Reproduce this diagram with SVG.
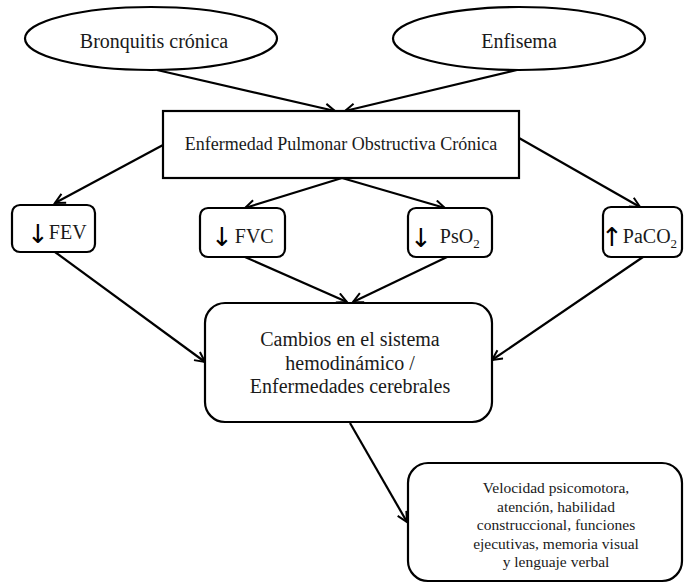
<svg xmlns="http://www.w3.org/2000/svg" width="684" height="583" viewBox="0 0 684 583">
  <defs>
    <marker id="arr" markerUnits="userSpaceOnUse" markerWidth="14" markerHeight="14" refX="11" refY="6" orient="auto">
      <path d="M1,1 L11,6 L1,11" fill="none" stroke="#000" stroke-width="2"/>
    </marker>
    <style>
      .shape { fill: #fff; stroke: #000; stroke-width: 2.2; }
      .t { font-family: "Liberation Serif", "Times New Roman", serif; fill: #1a1a1a; text-anchor: middle; }
      .s { text-anchor: start; }
      .big { font-size: 20px; }
      .mid { font-size: 18px; }
      .small { font-size: 15.5px; }
      .sym { font-family: "DejaVu Sans", sans-serif; font-size: 26px; fill: #000; }
      .sub { font-size: 13px; }
      .conn line { stroke: #000; stroke-width: 2.2; marker-end: url(#arr); }
    </style>
  </defs>
  <rect width="684" height="583" fill="#fff"/>

  <g id="connectors" class="conn">
    <line x1="157" y1="70" x2="335" y2="111"/>
    <line x1="517" y1="70" x2="345" y2="111"/>
    <line x1="163" y1="145" x2="55" y2="203"/>
    <line x1="342" y1="178" x2="245" y2="208"/>
    <line x1="342" y1="178" x2="445" y2="208"/>
    <line x1="519" y1="138" x2="640" y2="207"/>
    <line x1="55" y1="252" x2="205" y2="362"/>
    <line x1="245" y1="257" x2="347" y2="302"/>
    <line x1="447" y1="257" x2="353" y2="302"/>
    <line x1="643" y1="257" x2="492" y2="360"/>
    <line x1="350" y1="423" x2="407" y2="522"/>
  </g>

  <g id="bronquitis">
    <ellipse class="shape" cx="151" cy="38.5" rx="126" ry="31.5"/>
    <text class="t big" x="154" y="48">Bronquitis crónica</text>
  </g>
  <g id="enfisema">
    <ellipse class="shape" cx="519" cy="38.5" rx="126" ry="31.5"/>
    <text class="t big" x="519" y="48">Enfisema</text>
  </g>
  <g id="epoc">
    <rect class="shape" x="163" y="111" width="356" height="67"/>
    <text class="t mid" x="341" y="150">Enfermedad Pulmonar Obstructiva Crónica</text>
  </g>
  <g id="fev">
    <rect class="shape" x="12" y="205" width="83" height="47" rx="8"/>
    <text class="t big s" x="27" y="239"><tspan class="sym" dy="4">↓</tspan><tspan dy="-4">FEV</tspan></text>
  </g>
  <g id="fvc">
    <rect class="shape" x="200" y="208" width="85" height="49" rx="8"/>
    <text class="t big s" x="211" y="243"><tspan class="sym" dy="3">↓</tspan><tspan dx="2" dy="-3">FVC</tspan></text>
  </g>
  <g id="pso2">
    <rect class="shape" x="408" y="208" width="84" height="49" rx="8"/>
    <text class="t big s" x="410" y="243"><tspan class="sym" dy="4">↓</tspan><tspan dx="8" dy="-4">PsO</tspan><tspan class="sub" dy="5">2</tspan></text>
  </g>
  <g id="paco2">
    <rect class="shape" x="603" y="207" width="79" height="50" rx="8"/>
    <text class="t big s" x="601" y="243"><tspan class="sym" dy="3">↑</tspan><tspan dy="-3">PaCO</tspan><tspan class="sub" dy="5">2</tspan></text>
  </g>
  <g id="cambios">
    <rect class="shape" x="205" y="303" width="287" height="119" rx="20"/>
    <text class="t big" x="350" y="346">Cambios en el sistema</text>
    <text class="t big" x="350" y="369.5">hemodinámico /</text>
    <text class="t big" x="350" y="393">Enfermedades cerebrales</text>
  </g>
  <g id="funciones">
    <rect class="shape" x="408" y="463" width="274" height="118" rx="20"/>
    <text class="t small" x="556" y="493">Velocidad psicomotora,</text>
    <text class="t small" x="556" y="511.5">atención, habilidad</text>
    <text class="t small" x="556" y="530">construccional, funciones</text>
    <text class="t small" x="556" y="548.5">ejecutivas, memoria visual</text>
    <text class="t small" x="556" y="567">y lenguaje verbal</text>
  </g>
</svg>
